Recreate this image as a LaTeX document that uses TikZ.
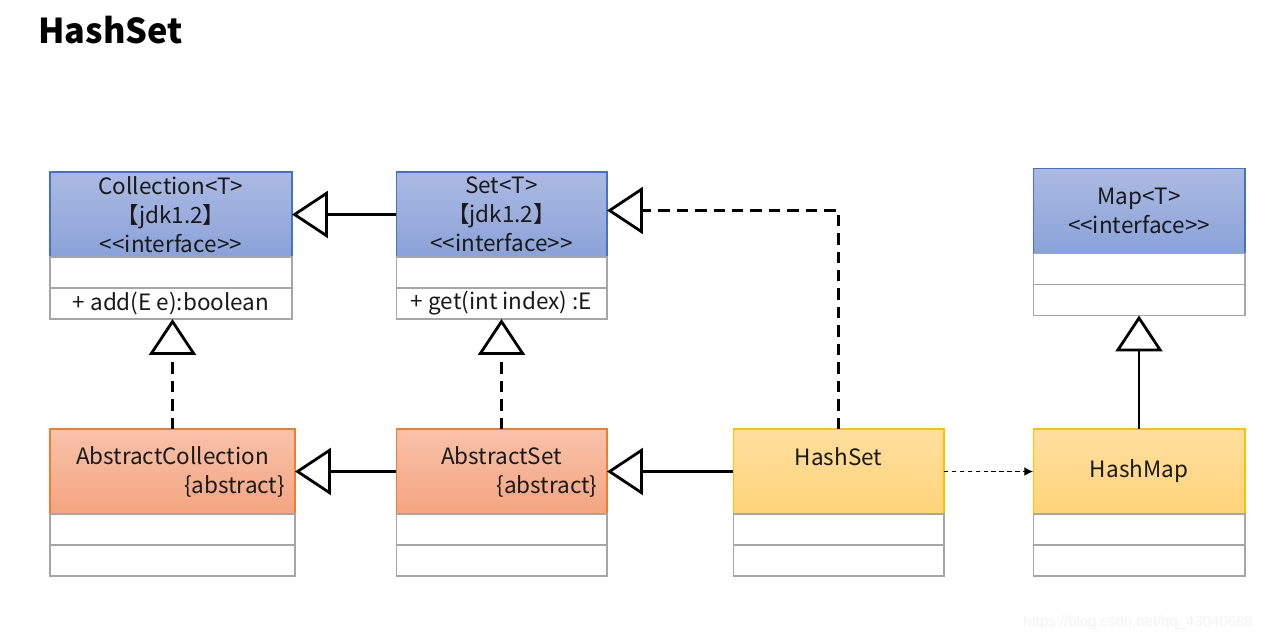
\documentclass[tikz,border=0pt]{standalone}
\usepackage{fontspec}
\setmainfont{Noto Sans CJK SC}
\newfontfamily\markfont{Liberation Sans}
\usetikzlibrary{arrows.meta,positioning}

\definecolor{ifaceTop}{HTML}{ABBAE2}
\definecolor{ifaceBot}{HTML}{8AA2D9}
\definecolor{ifaceLine}{HTML}{4472C4}
\definecolor{absTop}{HTML}{F8C2A9}
\definecolor{absBot}{HTML}{F4A480}
\definecolor{absLine}{HTML}{ED7D31}
\definecolor{implTop}{HTML}{FFDF9E}
\definecolor{implBot}{HTML}{FFD47A}
\definecolor{implLine}{HTML}{FFC000}
\definecolor{rowLine}{HTML}{A6A6A6}

\newcommand{\stereo}[1]{<\kern0pt<#1>\kern0pt>}

\tikzset{
  hdr/.style={draw,line width=0.6pt,outer sep=0pt,inner sep=2pt,minimum height=1.7cm,
    align=center,text=black!90,font=\fontsize{12.8}{16.5}\selectfont},
  iface/.style={hdr,draw=ifaceLine,top color=ifaceTop,bottom color=ifaceBot},
  absclass/.style={hdr,draw=absLine,top color=absTop,bottom color=absBot},
  implclass/.style={hdr,draw=implLine,top color=implTop,bottom color=implBot},
  row/.style={draw=rowLine,fill=white,line width=0.6pt,outer sep=0pt,inner sep=1pt,
    minimum height=0.62cm,text=black!90,font=\fontsize{12.8}{14}\selectfont},
  inherit/.style={line width=1.6pt,-{Triangle[open,length=0.72cm,width=0.94cm]}},
  realize/.style={inherit,dash pattern=on 6.5pt off 4pt},
  uses/.style={line width=0.6pt,dash pattern=on 2.5pt off 2pt,-{Latex[length=5pt,width=5pt]}}
}

\begin{document}
\begin{tikzpicture}[x=0.02cm,y=-0.02cm]
  \useasboundingbox (0,0) rectangle (1263,642);

  \node[anchor=west,inner sep=0pt,font=\fontsize{19.5}{24}\selectfont\bfseries] (title) at (38,30) {HashSet};

  % interfaces
  \node[iface,minimum width=4.84cm] (coll) at (171,214.5) {Collection<T>\\【jdk1.2】\\\stereo{interface}};
  \node[row,minimum width=4.84cm,below=0pt of coll] (coll-a) {};
  \node[row,minimum width=4.84cm,below=0pt of coll-a] (coll-b) {+ add(E e):boolean};

  \node[iface,minimum width=4.22cm] (set) at (501.5,214.5) {Set<T>\\【jdk1.2】\\\stereo{interface}};
  \node[row,minimum width=4.22cm,below=0pt of set] (set-a) {};
  \node[row,minimum width=4.22cm,below=0pt of set-a] (set-b) {+ get(int index) :E};

  \node[iface,minimum width=4.24cm] (map) at (1139,211) {Map<T>\\\stereo{interface}};
  \node[row,minimum width=4.24cm,below=0pt of map] (map-a) {};
  \node[row,minimum width=4.24cm,below=0pt of map-a] (map-b) {};

  % classes
  \node[absclass,minimum width=4.9cm,text width=4.5cm] (abscoll) at (172.5,471.5) {AbstractCollection\\\hfill\{abstract\}};
  \node[row,minimum width=4.9cm,below=0pt of abscoll] (abscoll-a) {};
  \node[row,minimum width=4.9cm,below=0pt of abscoll-a] (abscoll-b) {};

  \node[absclass,minimum width=4.22cm,text width=3.84cm] (absset) at (501.5,471.5) {AbstractSet\\\hfill\{abstract\}};
  \node[row,minimum width=4.22cm,below=0pt of absset] (absset-a) {};
  \node[row,minimum width=4.22cm,below=0pt of absset-a] (absset-b) {};

  \node[implclass,minimum width=4.22cm] (hashset) at (838.5,471.5) {HashSet\\\mbox{}};
  \node[row,minimum width=4.22cm,below=0pt of hashset] (hashset-a) {};
  \node[row,minimum width=4.22cm,below=0pt of hashset-a] (hashset-b) {};

  \node[implclass,minimum width=4.24cm] (hashmap) at (1139,471.5) {HashMap};
  \node[row,minimum width=4.24cm,below=0pt of hashmap] (hashmap-a) {};
  \node[row,minimum width=4.24cm,below=0pt of hashmap-a] (hashmap-b) {};

  % relations
  \draw[inherit] (set) -- (coll);
  \draw[inherit] (absset) -- (abscoll);
  \draw[inherit] (hashset) -- (absset);
  \draw[realize] (abscoll.north) -- (abscoll.north |- coll-b.south);
  \draw[realize] (absset.north) -- (absset.north |- set-b.south);
  \draw[realize] (hashset.north) |- ([yshift=0.08cm]set.east);
  \draw[inherit] (hashmap.north) -- (map-b.south);
  \draw[uses] (hashset) -- (hashmap);

  \node[anchor=east,inner sep=0pt,text=black!5,font=\markfont\fontsize{8.5}{10}\selectfont] (mark) at (1253,623) {https://blog.csdn.net/qq\_43040688};
\end{tikzpicture}
\end{document}
